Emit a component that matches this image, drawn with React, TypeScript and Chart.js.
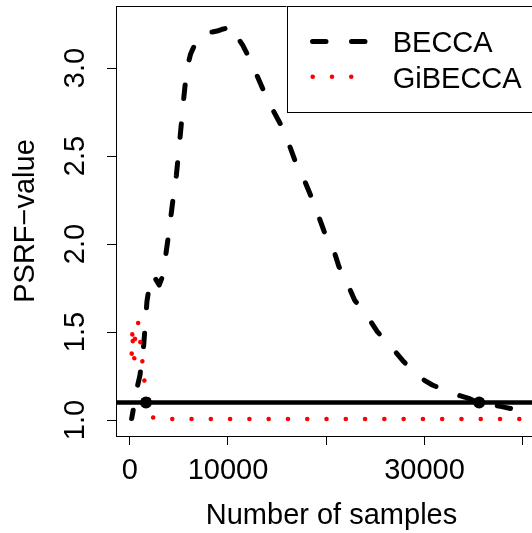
import React, { useEffect, useRef } from "react";
import { Chart, registerables } from "chart.js";

Chart.register(...registerables);

const FONT = "'Liberation Sans', Arial, Helvetica, sans-serif";

// Axis ticks and limits
const xTicks = [0, 10000, 20000, 30000, 40000];
const xTickLabels = ["0", "10000", "", "30000", ""];
const yTicks = [1.0, 1.5, 2.0, 2.5, 3.0];
const yTickLabels = ["1.0", "1.5", "2.0", "2.5", "3.0"];
const xLimits = [-1394, 42473];
const yLimits = [0.9091, 3.3523];

// BECCA series
const beccaX = [200, 400, 700, 1050, 1425, 1760, 2050, 2300, 2650, 3000, 3300, 3600, 4000, 4400, 4750, 5100, 5450, 5800, 6200, 6600, 7000, 7400, 7900, 8400, 8900, 9400, 9800, 10050, 10500, 10900, 11500, 12000, 12700, 13600, 14300, 15300, 16000, 16800, 17500, 18400, 19000, 19800, 20600, 21300, 22000, 22900, 24000, 25200, 26300, 27800, 28900, 30000, 30800, 32300, 33500, 34500, 35300, 36500, 37500, 38200, 39900, 40825];
const beccaY = [1.008, 1.07, 1.17, 1.256, 1.426, 1.676, 1.78, 1.824, 1.8, 1.767, 1.81, 1.909, 2.07, 2.25, 2.39, 2.59, 2.8, 2.99, 3.08, 3.13, 3.16, 3.185, 3.205, 3.205, 3.21, 3.22, 3.225, 3.245, 3.215, 3.18, 3.13, 3.075, 2.99, 2.875, 2.79, 2.686, 2.6, 2.477, 2.4, 2.278, 2.193, 2.07, 1.994, 1.871, 1.795, 1.68, 1.606, 1.502, 1.436, 1.337, 1.274, 1.225, 1.199, 1.165, 1.14, 1.123, 1.104, 1.09, 1.08, 1.072, 1.053, 1.045];

// GiBECCA series
const gibeccaX = [204, 265, 285, 305, 465, 539, 845, 1079, 1282, 1486, 1893, 2300, 3000, 6000, 10000, 20000, 30000, 40825];
const gibeccaY = [1.377, 1.485, 1.522, 1.449, 1.345, 1.459, 1.56, 1.445, 1.337, 1.227, 1.121, 1.0153, 1.006, 1.0057, 1.0057, 1.0057, 1.0057, 1.0057];

// Threshold and crossing points
const threshold = 1.1;
const crossX = [1660, 35570];

const seriesLabels = ["BECCA", "GiBECCA"];

const decorPlugin = {
  id: "decor",
  afterDraw(chart: any) {
    const { ctx, chartArea: ca, scales } = chart;
    const ys = scales.y;
    ctx.save();
    // plot box
    ctx.strokeStyle = "#000";
    ctx.lineWidth = 1;
    ctx.setLineDash([]);
    ctx.strokeRect(Math.round(ca.left) + 0.5, Math.round(ca.top) + 0.5, ca.right - ca.left, ca.bottom - ca.top);

    // rotated y tick labels
    ctx.fillStyle = "#000";
    ctx.font = `29px ${FONT}`;
    ctx.textAlign = "center";
    ctx.textBaseline = "alphabetic";
    yTicks.forEach((v, i) => {
      const py = ys.getPixelForValue(v);
      ctx.save();
      ctx.translate(ca.left - 32.5, py);
      ctx.rotate(-Math.PI / 2);
      ctx.fillText(yTickLabels[i], 0, 0);
      ctx.restore();
    });

    // legend
    const lx = ca.left + 170.5;
    const ly = ca.top;
    ctx.fillStyle = "#fff";
    ctx.fillRect(lx, ly, chart.width + 20 - lx, 106);
    ctx.strokeStyle = "#000";
    ctx.lineWidth = 1;
    ctx.strokeRect(Math.round(lx) + 0.5, Math.round(ly) + 0.5, chart.width + 20 - lx, 106);
    const ds = chart.data.datasets;
    ctx.beginPath();
    ctx.strokeStyle = ds[0].borderColor;
    ctx.lineWidth = ds[0].borderWidth;
    ctx.lineCap = "round";
    ctx.setLineDash(ds[0].borderDash);
    ctx.lineDashOffset = 0;
    ctx.moveTo(ca.left + 196.5, ly + 35.5);
    ctx.lineTo(ca.left + 249.5, ly + 35.5);
    ctx.stroke();
    ctx.beginPath();
    ctx.strokeStyle = ds[1].borderColor;
    ctx.lineWidth = ds[1].borderWidth;
    ctx.setLineDash(ds[1].borderDash);
    ctx.moveTo(ca.left + 196.7, ly + 70.8);
    ctx.lineTo(ca.left + 236, ly + 70.8);
    ctx.stroke();
    ctx.setLineDash([]);
    ctx.fillStyle = "#000";
    ctx.textAlign = "left";
    ctx.textBaseline = "alphabetic";
    ctx.fillText(ds[0].label, ca.left + 276.7, ly + 46.3);
    ctx.fillText(ds[1].label, ca.left + 276.7, ly + 81.5);
    ctx.restore();
  },
};

export default function App() {
  const ref = useRef<HTMLCanvasElement | null>(null);

  useEffect(() => {
    if (!ref.current) return;
    const chart = new Chart(ref.current, {
      type: "line",
      data: {
        datasets: [
          {
            label: seriesLabels[0],
            data: beccaX.map((x, i) => ({ x, y: beccaY[i] })),
            borderColor: "#000000",
            borderWidth: 5,
            borderDash: [13.5, 25.5],
            borderDashOffset: 5,
            borderCapStyle: "round",
            borderJoinStyle: "round",
            pointRadius: 0,
            tension: 0,
            fill: false,
            order: 4,
          },
          {
            label: seriesLabels[1],
            data: gibeccaX.map((x, i) => ({ x, y: gibeccaY[i] })),
            borderColor: "#FF0000",
            borderWidth: 4.6,
            borderDash: [0.01, 19.27],
            borderCapStyle: "round",
            borderJoinStyle: "round",
            pointRadius: 0,
            tension: 0,
            fill: false,
            order: 3,
          },
          {
            label: "threshold",
            data: [
              { x: xLimits[0], y: threshold },
              { x: xLimits[1], y: threshold },
            ],
            borderColor: "#000000",
            borderWidth: 4.5,
            pointRadius: 0,
            fill: false,
            order: 2,
          },
          {
            label: "crossings",
            data: crossX.map((x) => ({ x, y: threshold })),
            showLine: false,
            pointRadius: 6,
            pointBackgroundColor: "#000000",
            pointBorderWidth: 0,
            borderColor: "#000000",
            order: 1,
          },
        ],
      },
      options: {
        responsive: false,
        animation: false,
        devicePixelRatio: 1,
        layout: { padding: { left: 0, top: 6, right: 13, bottom: 0 } },
        plugins: { legend: { display: false }, tooltip: { enabled: false } },
        scales: {
          x: {
            type: "linear",
            min: xLimits[0],
            max: xLimits[1],
            afterBuildTicks: (s: any) => { s.ticks = xTicks.map((v) => ({ value: v })); },
            afterFit: (s: any) => { s.height = 97; },
            ticks: {
              autoSkip: false, maxRotation: 0, minRotation: 0, padding: 9, color: "#000",
              font: { size: 29, family: FONT, lineHeight: 1.2 },
              callback: (v: any) => { const i = xTicks.indexOf(Number(v)); return i >= 0 ? xTickLabels[i] : ""; },
            },
            grid: { display: true, drawOnChartArea: false, drawTicks: true, tickLength: 9, color: "#000", lineWidth: 1 },
            border: { display: true, color: "#000", width: 1 },
            title: { display: true, text: "Number of samples", color: "#000", font: { size: 29, family: FONT, lineHeight: 1.2 }, padding: { top: 0, bottom: 0 } },
          },
          y: {
            type: "linear",
            min: yLimits[0],
            max: yLimits[1],
            afterBuildTicks: (s: any) => { s.ticks = yTicks.map((v) => ({ value: v })); },
            afterFit: (s: any) => { s.width = 116; },
            ticks: { display: false },
            grid: { display: true, drawOnChartArea: false, drawTicks: true, tickLength: 9, color: "#000", lineWidth: 1 },
            border: { display: true, color: "#000", width: 1 },
            title: { display: true, text: "PSRF\u2212value", color: "#000", font: { size: 29, family: FONT, lineHeight: 1.2 }, padding: { top: 9, bottom: 0 } },
          },
        },
      },
      plugins: [decorPlugin],
    } as any);
    return () => chart.destroy();
  }, []);

  return (
    <div style={{ position: "fixed", left: 0, top: 0, width: 532, height: 533, overflow: "hidden", background: "#fff" }}>
      <canvas ref={ref} width={560} height={533} style={{ display: "block" }} />
    </div>
  );
}
